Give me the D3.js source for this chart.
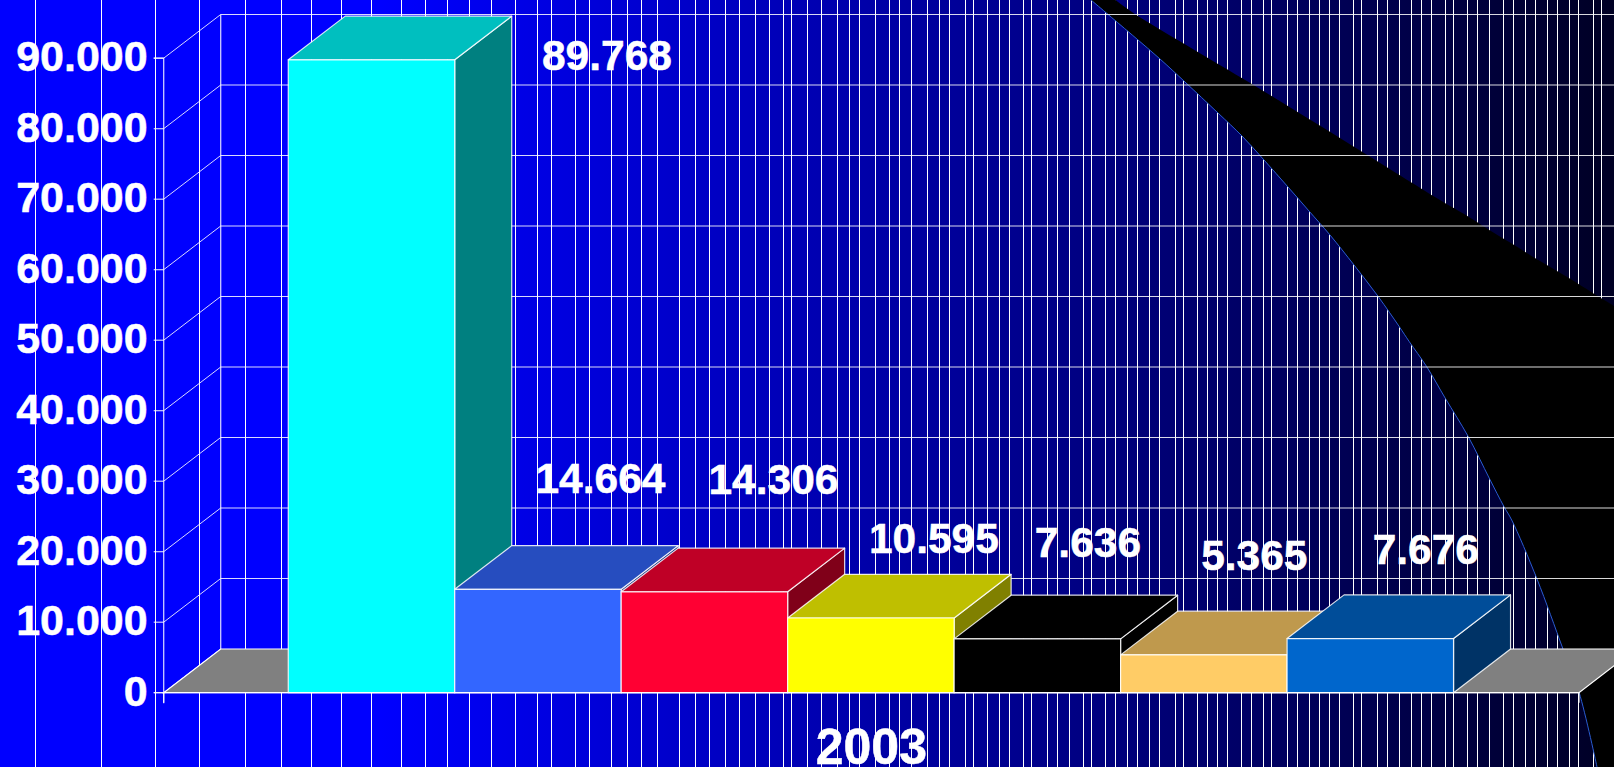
<!DOCTYPE html>
<html>
<head>
<meta charset="utf-8">
<script src="https://cdn.jsdelivr.net/npm/d3@7"></script>
<style>
html,body{margin:0;padding:0;background:#000;overflow:hidden}
svg{display:block}
text{font-family:"Liberation Sans",Arial,sans-serif;font-weight:700;fill:#fff;stroke:#fff;stroke-width:.5px}
</style>
</head>
<body>
<svg id="chart" width="1614" height="767"></svg>
<script>
// ---- data ----
const years = ["2003"];
const seriesNames = ["s1","s2","s3","s4","s5","s6","s7"];
const seriesValues = [89768,14664,14306,10595,7636,5365,7676];
const valueTicks = [0,10000,20000,30000,40000,50000,60000,70000,80000,90000];
const frontColors = ["#00ffff","#3366ff","#ff0033","#ffff00","#000000","#ffcc66","#0066cc"];
const topColors   = ["#00bfbf","#264dbf","#bf0026","#bfbf00","#000000","#bf994d","#004d99"];
const sideColors  = ["#008080","#1a3380","#800019","#808000","#000000","#806633","#003366"];

// ---- decoration of the slide background ----
const stripeColumns = [35,101,155,199,245,281,311,341,371,401,425,447,469,491,515,537,551,575,589,611,627,641,657,679,695,709,725,739,755,769,783,791,807,821,837,849,859,875,889,899,911,927,939,949,965,973,987,999,1009,1023,1031,1047,1057,1069,1083,1091,1105,1115,1127,1137,1149,1159,1175,1183,1197,1207,1217,1227,1241,1251,1263,1271,1287,1297,1309,1319,1329,1339,1353,1361,1377,1387,1399,1411,1421,1431,1445,1453,1467,1477,1489,1503,1513,1525,1535,1547,1557,1569,1578,1593,1601];
const swooshLower = [[1091,0],[1106,12.7],[1160,59],[1185,82],[1218,113],[1242,136],[1264,160],[1288,187],[1309,211],[1330,235],[1354,265],[1378.3,296.7],[1399.3,326.7],[1409.3,341.7],[1426.7,366.7],[1445.3,398.3],[1468.3,436.7],[1489.3,478.3],[1504,506.7],[1511.7,520],[1537,579],[1563,649],[1579,692],[1597,767]];
const swooshUpper = [[1115.5,0],[1133,12.7],[1250.6,83.3],[1364,153],[1440,200],[1467.3,216],[1489.3,230],[1511.3,243.3],[1535.3,258.3],[1569.3,278.3],[1601.3,298.3],[1614,306]];
const labelNudges = [[235.5,10],[62.5,-96],[69,-98],[63,-65],[50.5,-82],[50.5,-85],[55.5,-75]];

// ---- layout ----
const W = 1614, H = 767;
const plot = {left:163.7, right:1579, zero:692.7, top90:58.2};
const depth = {x:57, y:-43.7};
const svg = d3.select("#chart");

const y = d3.scaleLinear().domain([0,90000]).range([plot.zero,plot.top90]);
const x = d3.scaleBand().domain(seriesNames).range([plot.left-.3,plot.right-.6]).paddingInner(0).paddingOuter(0.75);
const xYear = d3.scaleBand().domain(years).range([plot.left,plot.right]);
const stripeX = d3.scaleIdentity();
const fmt = d3.formatLocale({decimal:",",thousands:".",grouping:[3],currency:["",""]}).format(",");

// background
const defs = svg.append("defs");
const grad = defs.append("linearGradient").attr("id","bg").attr("gradientUnits","userSpaceOnUse")
  .attr("x1",0).attr("x2",W).attr("y1",0).attr("y2",0);
[[0,"#0000ff"],[380/W,"#0000ff"],[1,"#000024"]].forEach(s=>grad.append("stop").attr("offset",s[0]).attr("stop-color",s[1]));
svg.append("rect").attr("width",W).attr("height",H).attr("fill","url(#bg)");

svg.append("g").selectAll("line").data(stripeColumns).join("line")
  .attr("x1",d=>stripeX(d)+.5).attr("x2",d=>stripeX(d)+.5).attr("y1",0).attr("y2",H)
  .attr("stroke","#fff").attr("stroke-width",1);

// black swoosh
const smooth = d3.line().curve(d3.curveCatmullRom);
const lineGen = d3.line().curve(d3.curveLinear);
const lowerPath = smooth(swooshLower);
const upperPath = smooth(swooshUpper.slice().reverse());
svg.append("path").attr("d",lowerPath+`L${W},${H}L${W},${swooshUpper[swooshUpper.length-1][1]}`+upperPath.replace(/^M/,"L")+"Z").attr("fill","#000");
svg.append("path").attr("d",lowerPath).attr("fill","none").attr("stroke","#2a5bd0").attr("stroke-width",1);

// walls grid
const grid = svg.append("g").attr("stroke","#fff").attr("fill","none");
grid.selectAll("line.h").data(valueTicks).join("line").attr("class","h")
  .attr("x1",plot.left+depth.x).attr("x2",W)
  .attr("y1",d=>y(d)+depth.y).attr("y2",d=>y(d)+depth.y)
  .attr("stroke-width",d=>d===0?0:1.2).attr("stroke-opacity",.85);
grid.selectAll("line.d").data(valueTicks).join("line").attr("class","d")
  .attr("x1",plot.left).attr("x2",plot.left+depth.x)
  .attr("y1",d=>y(d)).attr("y2",d=>y(d)+depth.y)
  .attr("stroke-width",1).attr("stroke-opacity",.85);
grid.append("line").attr("x1",plot.left+depth.x).attr("x2",plot.left+depth.x)
  .attr("y1",y(90000)+depth.y).attr("y2",y(0)+depth.y).attr("stroke-width",1.3).attr("stroke-opacity",.8);

// floor
svg.append("path").attr("d",lineGen([
  [plot.left,y(0)],[plot.left+depth.x,y(0)+depth.y],[plot.right+depth.x,y(0)+depth.y],[plot.right,y(0)]
])+"Z").attr("fill","#808080").attr("stroke","#fff").attr("stroke-width",1.2);

// bars: painter's order, left to right
const bars = svg.append("g").selectAll("g").data(seriesValues).join("g").attr("stroke","#fff").attr("stroke-width",1.2).attr("stroke-opacity",.85).attr("stroke-linejoin","round");
bars.each(function(v,i){
  const g = d3.select(this);
  const x0 = x(seriesNames[i]), x1 = x0 + x.bandwidth(), yt = y(v), yb = y(0);
  const dx = depth.x, dy = depth.y;
  g.append("path").attr("fill",sideColors[i]).attr("d",lineGen([[x1,yt],[x1+dx,yt+dy],[x1+dx,yb+dy],[x1,yb]])+"Z");
  g.append("path").attr("fill",topColors[i]).attr("d",lineGen([[x0,yt],[x0+dx,yt+dy],[x1+dx,yt+dy],[x1,yt]])+"Z");
  g.append("rect").attr("fill",frontColors[i]).attr("x",x0).attr("y",yt).attr("width",x.bandwidth()).attr("height",yb-yt);
});

// value axis
const yAxis = svg.append("g").attr("transform",`translate(${plot.left},0)`)
  .call(d3.axisLeft(y).tickValues(valueTicks).tickFormat(fmt).tickSize(10).tickPadding(6).offset(0));
yAxis.select(".domain").attr("stroke","#fff").attr("stroke-opacity",.8).attr("stroke-width",1.3);
yAxis.selectAll(".tick line").attr("stroke","#fff").attr("stroke-opacity",.8).attr("stroke-width",1.2);
yAxis.selectAll(".tick text").attr("dy",12.8).style("font-size","43px").style("font-family",'"Liberation Sans",Arial,sans-serif').style("font-weight",700).attr("fill","#fff");
svg.append("line").attr("x1",plot.left).attr("x2",plot.left).attr("y1",y(0)).attr("y2",y(0)+10.5).attr("stroke","#fff").attr("stroke-opacity",.8).attr("stroke-width",1.3);

// category axis
const xAxis = svg.append("g").attr("transform",`translate(0,${plot.zero})`)
  .call(d3.axisBottom(xYear).tickSizeInner(0).tickSizeOuter(10).tickPadding(0).offset(0));
xAxis.select(".domain").attr("stroke","#fff").attr("stroke-opacity",.9).attr("stroke-width",1.2);
xAxis.selectAll(".tick text").attr("y",71.8).attr("dy",0).style("font-size","50px").style("font-family",'"Liberation Sans",Arial,sans-serif').style("font-weight",700).attr("fill","#fff");

// value labels
svg.append("g").selectAll("text").data(seriesValues).join("text")
  .attr("text-anchor","middle")
  .attr("x",(d,i)=>x(seriesNames[i])+x.bandwidth()/2+labelNudges[i][0])
  .attr("y",(d,i)=>y(d)+labelNudges[i][1])
  .style("font-size","42.5px")
  .text(d=>fmt(d));
</script>
</body>
</html>
